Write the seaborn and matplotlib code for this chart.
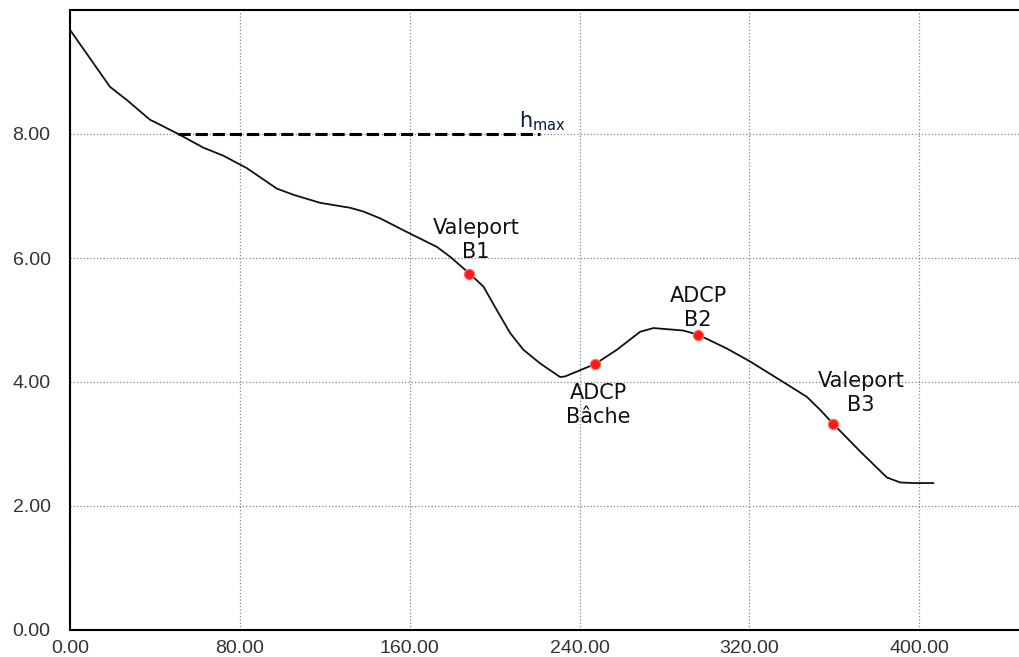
import matplotlib
matplotlib.use("Agg")
import matplotlib.pyplot as plt
import pandas as pd
import seaborn as sns

# bed profile
dist = [0, 18.85, 26.71, 37.69, 42.40, 51.02, 62.80, 72.23, 77.74,
        83.25, 97.39, 105.21, 117.79, 131.92, 138.19, 146.06, 158.63, 172.77,
        179.04, 188.13, 194.72, 201.04, 207.30, 213.57, 221.44, 230.86,
        233.22, 247.35, 257.58, 268.55, 274.82, 288.95, 296.02, 309.40,
        320.38, 334.51, 347.09, 353.36, 359.62, 372.20, 384.78, 391.05,
        397.31, 406.74]
depth = [9.68, 8.76, 8.55, 8.23, 8.15, 8.00, 7.78, 7.65, 7.55,
         7.45, 7.12, 7.02, 6.89, 6.81, 6.75, 6.64, 6.42, 6.18,
         6.02, 5.75, 5.54, 5.16, 4.79, 4.52, 4.30, 4.08,
         4.09, 4.29, 4.52, 4.81, 4.87, 4.83, 4.76, 4.54,
         4.33, 4.03, 3.76, 3.55, 3.32, 2.88, 2.46, 2.38,
         2.37, 2.37]

# instruments
inst_names = ["Valeport\nB1", "ADCP\nBâche", "ADCP\nB2", "Valeport\nB3"]
inst_x = [188.13, 247.35, 296.02, 359.62]
inst_y = [5.75, 4.29, 4.76, 3.32]
label_x = [191.3, 248.8, 295.9, 372.5]
label_y = [6.29, 3.63, 5.19, 3.82]

hmax_x = [51.0, 221.4]
hmax_y = [8.0, 8.0]

xticks = [0, 80, 160, 240, 320, 400]
yticks = [0, 2, 4, 6, 8]

sns.set_theme(style="white")
plt.rcParams["font.family"] = ["DejaVu Sans"]

profile = pd.DataFrame({"x": dist, "y": depth})
points = pd.DataFrame({"x": inst_x, "y": inst_y})

fig = plt.figure(figsize=(10.19, 6.57), dpi=100)
ax = fig.add_axes([70 / 1019, 27 / 657, 949 / 1019, 620 / 657])

sns.lineplot(data=profile, x="x", y="y", color="#111111", linewidth=1.3,
             sort=False, ax=ax)
ax.plot(hmax_x, hmax_y, color="black", linestyle=(0, (4, 1.6)), linewidth=2.2)
sns.scatterplot(data=points, x="x", y="y", color="#ff1a1a", s=55,
                edgecolor="#ff7070", linewidth=0.8, zorder=5, ax=ax)

for name, lx, ly in zip(inst_names, label_x, label_y):
    ax.text(lx, ly, name, ha="center", va="center", fontsize=15,
            linespacing=1.25, color="#111111")

ax.text(211.5, 8.2, r"h$_{\mathrm{max}}$", ha="left", va="center",
        fontsize=15, color="#0a1a3a")

ax.set_xlim(0, 447)
ax.set_ylim(0, 10)
ax.set_xticks(xticks)
ax.set_yticks(yticks)
ax.set_xticklabels([f"{v:.2f}" for v in xticks], family="Liberation Sans",
                   fontsize=14, color="#333333")
ax.set_yticklabels([f"{v:.2f}" for v in yticks], family="Liberation Sans",
                   fontsize=14, color="#333333")
ax.tick_params(axis="x", length=0, pad=7)
ax.tick_params(axis="y", length=0, pad=14)
ax.grid(True, color="#888888", linestyle=":", linewidth=0.9)
ax.set_xlabel("")
ax.set_ylabel("")

for side in ["left", "bottom", "top"]:
    ax.spines[side].set_color("black")
    ax.spines[side].set_linewidth(1.5)
ax.spines["right"].set_visible(False)

fig.savefig("out.png", dpi=100, facecolor="white")
